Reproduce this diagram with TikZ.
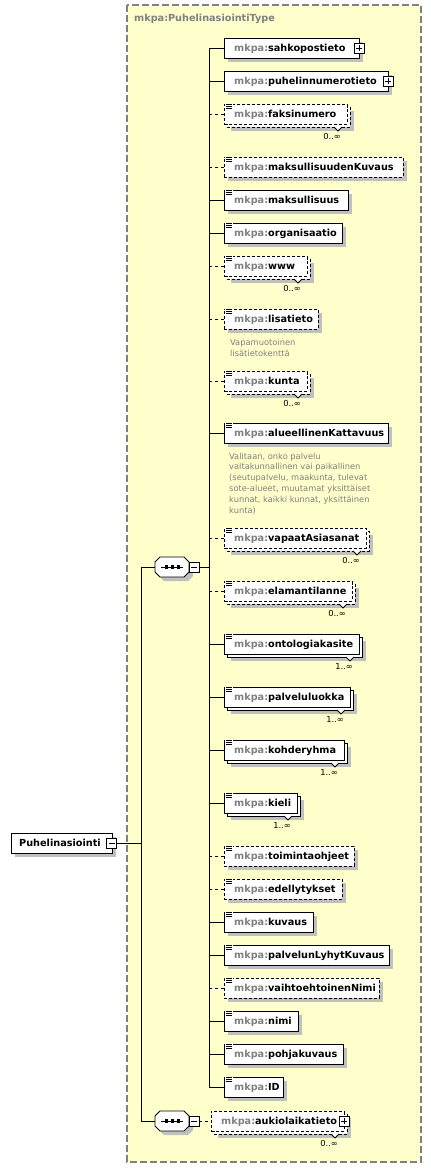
\documentclass[tikz,border=0pt]{standalone}
\usepackage{fontspec}
\setmainfont{DejaVu Sans}
\definecolor{cont}{RGB}{255,255,204}
\definecolor{pfx}{RGB}{128,128,128}
\definecolor{shd}{RGB}{192,192,192}
\definecolor{annoc}{RGB}{128,128,128}
\definecolor{contb}{RGB}{128,128,128}
\tikzset{
  ebox/.style={draw=black, fill=white, line width=0.9pt, inner sep=0pt, minimum height=20pt},
  optl/.style={dash pattern=on 3pt off 2pt},
  reql/.style={},
  conn/.style={line width=0.9pt},
  optc/.style={line width=0.9pt, dash pattern=on 3pt off 3pt},
  lbl/.style={font=\fontsize{9.7}{11}\selectfont\bfseries, inner sep=0pt},
  mult/.style={font=\fontsize{8.3}{10}\selectfont, inner sep=0pt},
  annot/.style={font=\fontsize{8.3}{10.8}\selectfont, text=annoc, inner sep=0pt, align=left},
  thin/.style={line width=0.8pt},
}
% single element: id, left, cy, right, line style, name
\newcommand{\El}[6]{%
  \fill[shd] (#2+4,#3-6) rectangle (#4+4,#3+14);
  \node[ebox,#5,anchor=west,minimum width={(#4-#2)*1pt}] (#1) at (#2,#3) {};
  \node[lbl,anchor=base west] (#1-t) at (#2+10,#3+3.8) {\textcolor{pfx}{mkpa:}#6};
}
% multi element: id, left, cy, right, line style, name, multiplicity
\newcommand{\ElM}[7]{%
  \fill[shd] (#2+7,#3-3) rectangle (#4+7,#3+17);
  \draw[line width=0.9pt,#5,fill=white] (#2+3,#3-7) rectangle (#4+3,#3+13);
  \node[ebox,#5,anchor=west,minimum width={(#4-#2)*1pt}] (#1) at (#2,#3) {};
  \draw[thin, fill=white] (#4-13,#3+13) -- (#4-9,#3+17) -- (#4-5,#3+13);
  \node[mult, anchor=base east] (#1-m) at (#4-6,#3+25) {#7};
  \node[lbl,anchor=base west] (#1-t) at (#2+10,#3+3.8) {\textcolor{pfx}{mkpa:}#6};
}
% simple-type icon: left, cy
\newcommand{\Ico}[2]{%
  \fill[white] (#1+1,#2-10.5) rectangle (#1+8.5,#2-4.5);
  \draw[line width=0.7pt] (#1+2,#2-10) -- (#1+8,#2-10) (#1+2,#2-8) -- (#1+7.5,#2-8) (#1+2,#2-6) -- (#1+7.5,#2-6);
}
% plus box at x, cy
\newcommand{\PlusBox}[2]{%
  \draw[thin, fill=white] (#1-5,#2-5) rectangle (#1+5,#2+5);
  \draw[thin] (#1-3,#2) -- (#1+3,#2) (#1,#2-3) -- (#1,#2+3);
}
% sequence compositor: id, cy
\newcommand{\SeqComp}[2]{%
  \fill[shd] (164,#2-6) -- (188,#2-6) -- (193,#2-1) -- (193,#2+9) -- (188,#2+14) -- (164,#2+14) -- (159,#2+9) -- (159,#2-1) -- cycle;
  \draw[line width=0.9pt, fill=white] (160,#2-10) -- (184,#2-10) -- (189,#2-5) -- (189,#2+5) -- (184,#2+10) -- (160,#2+10) -- (155,#2+5) -- (155,#2-5) -- cycle;
  \draw[thin] (161,#2) -- (183,#2);
  \fill (164.9,#2-1.6) rectangle (168.3,#2+1.6);
  \fill (170.9,#2-1.6) rectangle (174.3,#2+1.6);
  \fill (176.7,#2-1.6) rectangle (180.1,#2+1.6);
  \draw[thin, fill=white] (189,#2-5) rectangle (199,#2+5);
  \draw[thin] (191,#2) -- (197,#2);
  \coordinate (#1-in) at (155,#2);
  \coordinate (#1-out) at (199,#2);
}
\begin{document}
\begin{tikzpicture}[x=1pt,y=-1pt]
\useasboundingbox (0,0) rectangle (431,1168);
% container
\draw[draw=contb, fill=cont, line width=1.2pt, dash pattern=on 7pt off 3pt] (127,5) rectangle (421,1162);
\node[lbl, text=pfx, anchor=base west] (title) at (134,21.5) {mkpa:PuhelinasiointiType};

% root element
\fill[shd] (15,837) rectangle (116,857);
\node[ebox, anchor=west, minimum width=101pt] (root) at (11,843) {};
\node[lbl, anchor=base west] (root-t) at (19,846.8) {Puhelinasiointi};
\draw[thin, fill=white] (106.5,838) rectangle (116.5,848);
\draw[thin] (108.5,843) -- (114.5,843);
\coordinate (root-out) at (116.5,843);

% compositors
\SeqComp{s1}{567}
\SeqComp{s2}{1121}

% elements
\El{sah}{224}{48}{359}{reql}{sahkopostieto}
\PlusBox{359}{48}
\El{puh}{224}{81}{388}{reql}{puhelinnumerotieto}
\PlusBox{388}{81}
\ElM{fak}{224}{114}{347}{optl}{faksinumero}{0..∞}
\Ico{224}{114}
\El{mkk}{224}{167}{403}{optl}{maksullisuudenKuvaus}
\Ico{224}{167}
\El{mak}{224}{200}{348}{reql}{maksullisuus}
\Ico{224}{200}
\El{org}{224}{233}{342}{reql}{organisaatio}
\Ico{224}{233}
\ElM{www}{224}{266}{307}{optl}{www}{0..∞}
\Ico{224}{266}
\El{lis}{224}{319}{318}{optl}{lisatieto}
\Ico{224}{319}
\node[annot, anchor=north west] (lis-a) at (230,339) {Vapamuotoinen\\lisätietokenttä};
\ElM{kun}{224}{381}{307}{optl}{kunta}{0..∞}
\Ico{224}{381}
\El{alu}{224}{433}{388}{reql}{alueellinenKattavuus}
\Ico{224}{433}
\node[annot, anchor=north west] (alu-a) at (229,452.5) {Valitaan, onko palvelu\\valtakunnallinen vai paikallinen\\(seutupalvelu, maakunta, tulevat\\sote-alueet, muutamat yksittäiset\\kunnat, kaikki kunnat, yksittäinen\\kunta)};
\ElM{vap}{224}{538}{366}{optl}{vapaatAsiasanat}{0..∞}
\Ico{224}{538}
\ElM{ela}{224}{591}{352}{optl}{elamantilanne}{0..∞}
\Ico{224}{591}
\ElM{ont}{224}{644}{359}{reql}{ontologiakasite}{1..∞}
\Ico{224}{644}
\ElM{pal}{224}{697}{350}{reql}{palveluluokka}{1..∞}
\Ico{224}{697}
\ElM{koh}{224}{750}{344}{reql}{kohderyhma}{1..∞}
\Ico{224}{750}
\ElM{kie}{224}{803}{297}{reql}{kieli}{1..∞}
\Ico{224}{803}
\El{toi}{224}{856}{354}{optl}{toimintaohjeet}
\Ico{224}{856}
\El{ede}{224}{889}{342}{optl}{edellytykset}
\Ico{224}{889}
\El{kuv}{224}{922}{313}{reql}{kuvaus}
\Ico{224}{922}
\El{plk}{224}{955}{389}{reql}{palvelunLyhytKuvaus}
\Ico{224}{955}
\El{vai}{224}{988}{379}{optl}{vaihtoehtoinenNimi}
\Ico{224}{988}
\El{nim}{224}{1021}{298}{reql}{nimi}
\Ico{224}{1021}
\El{poh}{224}{1054}{343}{reql}{pohjakuvaus}
\Ico{224}{1054}
\El{eid}{224}{1087}{283}{reql}{ID}
\Ico{224}{1087}
\ElM{auk}{211}{1121}{344}{optl}{aukiolaikatieto}{0..∞}
\PlusBox{344}{1121}

% buses
\coordinate (b0top) at (141,567);
\coordinate (b0bot) at (141,1121);
\coordinate (b1top) at (209,48);
\coordinate (b1bot) at (209,1087);
\draw[conn] (root-out) -- (b0top |- root-out);
\draw[conn] (b0top) -- (b0bot);
\draw[conn] (b0top) -- (s1-in);
\draw[conn] (b0bot) -- (s2-in);
\draw[conn] (s1-out) -- (b1top |- s1-out);
\draw[optc] (s2-out) -- (auk.west);
\draw[conn] (b1top) -- (b1bot);
\foreach \n in {sah,puh,mak,org,alu,ont,pal,koh,kie,kuv,plk,nim,poh,eid}
  \draw[conn] (b1top |- \n.west) -- (\n.west);
\foreach \n in {fak,mkk,www,lis,kun,vap,ela,toi,ede,vai}
  \draw[optc] (b1top |- \n.west) -- (\n.west);
\end{tikzpicture}
\end{document}
